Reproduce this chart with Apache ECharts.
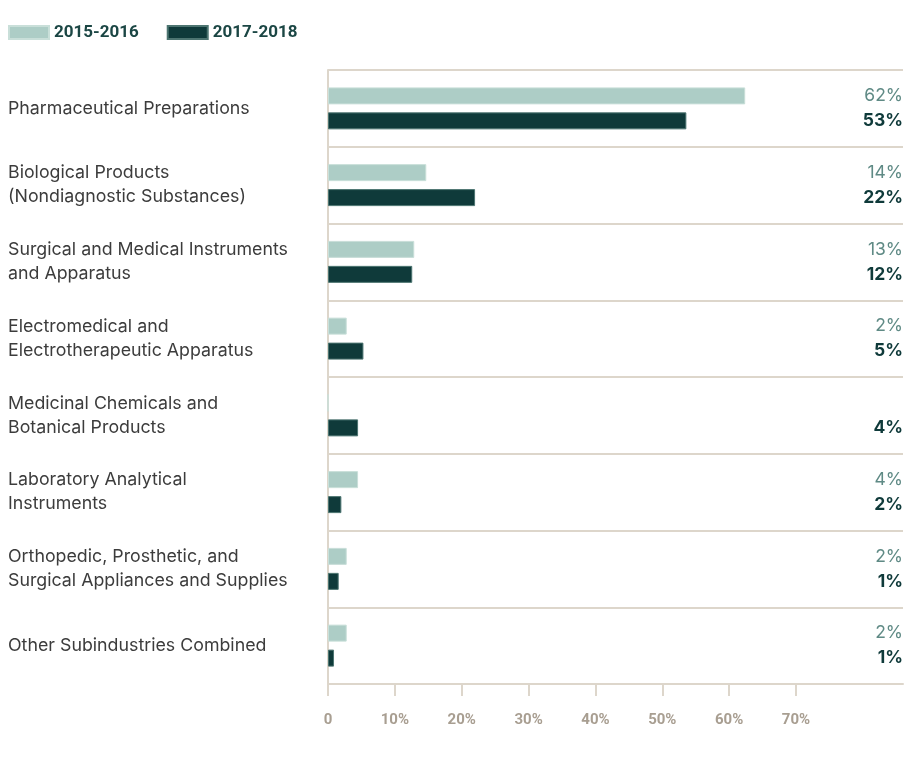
<!DOCTYPE html>
<html>
<head>
<meta charset="utf-8">
<script src="https://cdn.jsdelivr.net/npm/echarts@6/dist/echarts.min.js"></script>
<style>
  html, body { margin: 0; padding: 0; background: #fff; }
  #main { width: 907px; height: 761px; }
</style>
</head>
<body>
<div id="main"></div>
<script>
// categories, top to bottom
var categories = [
  'Pharmaceutical Preparations',
  'Biological Products\n(Nondiagnostic Substances)',
  'Surgical and Medical Instruments\nand Apparatus',
  'Electromedical and\nElectrotherapeutic Apparatus',
  'Medicinal Chemicals and\nBotanical Products',
  'Laboratory Analytical\nInstruments',
  'Orthopedic, Prosthetic, and\nSurgical Appliances and Supplies',
  'Other Subindustries Combined'
];
var seriesNames = ['2015-2016', '2017-2018'];
// bar lengths (percent)
var values2015 = [62.4, 14.7, 12.9, 2.8, 0, 4.5, 2.8, 2.8];
var values2017 = [53.6, 22.0, 12.6, 5.3, 4.5, 2.0, 1.6, 0.9];
// printed labels
var labels2015 = ['62%', '14%', '13%', '2%', '', '4%', '2%', '2%'];
var labels2017 = ['53%', '22%', '12%', '5%', '4%', '2%', '1%', '1%'];
var tickValues = [0, 10, 20, 30, 40, 50, 60, 70];
var axisMax = 86;

var lightColor = '#adcdc6';
var darkColor = '#0f3a3a';
var ruleColor = '#ddd6cb';
var narrowFont = 'Roboto, "Liberation Sans Narrow", sans-serif';

var chart = echarts.init(document.getElementById('main'));

var fullRow = categories.map(function () { return axisMax; });

function labelSeries(labels, color, weight) {
  return {
    type: 'bar',
    yAxisIndex: 1,
    data: fullRow,
    barWidth: 17,
    barGap: '47%',
    silent: true,
    itemStyle: { color: 'rgba(0,0,0,0)' },
    label: {
      show: true,
      position: 'insideRight',
      distance: 0,
      color: color,
      fontFamily: 'Inter, "Liberation Sans", sans-serif',
      fontSize: 17.5,
      fontWeight: weight,
      formatter: function (p) { return labels[p.dataIndex]; }
    }
  };
}

var option = {
  animation: false,
  legend: {
    left: 3,
    top: 19,
    itemWidth: 40,
    itemHeight: 13,
    itemGap: 28,
    icon: 'rect',
    data: seriesNames,
    textStyle: {
      color: '#1b4644',
      fontFamily: narrowFont,
      fontWeight: 'bold',
      fontSize: 17
    }
  },
  grid: { left: 328, right: 4, top: 70, bottom: 77 },
  xAxis: {
    type: 'value',
    min: 0,
    max: axisMax,
    interval: 10,
    axisLine: { show: true, lineStyle: { color: ruleColor, width: 2 } },
    axisTick: {
      show: true,
      length: 12,
      customValues: tickValues,
      lineStyle: { color: ruleColor, width: 2 }
    },
    splitLine: { show: false },
    axisLabel: {
      customValues: tickValues,
      margin: 29,
      color: '#a89e91',
      fontFamily: narrowFont,
      fontWeight: 'bold',
      fontSize: 15,
      formatter: function (v) { return v === 0 ? '0' : v + '%'; }
    }
  },
  yAxis: [{
    type: 'category',
    inverse: true,
    data: categories,
    axisLine: { show: true, lineStyle: { color: ruleColor, width: 2 } },
    axisTick: { show: false },
    splitLine: { show: true, lineStyle: { color: ruleColor, width: 2 } },
    axisLabel: {
      align: 'left',
      margin: 320,
      color: '#3c3c3c',
      fontFamily: 'Inter, "Liberation Sans", sans-serif',
      fontSize: 17.8,
      lineHeight: 24
    }
  }, {
    type: 'category',
    inverse: true,
    data: categories,
    show: false
  }],
  series: [{
    name: seriesNames[0],
    type: 'bar',
    data: values2015,
    barWidth: 17,
    barGap: '47%',
    itemStyle: { color: lightColor, borderColor: '#c9dfd9', borderWidth: 1 }
  }, {
    name: seriesNames[1],
    type: 'bar',
    data: values2017,
    barWidth: 17,
    barGap: '47%',
    itemStyle: { color: darkColor, borderColor: '#4d7571', borderWidth: 1 }
  },
  labelSeries(labels2015, '#5f8a85', 'normal'),
  labelSeries(labels2017, '#0f3a3a', 'bold')
  ]
};

chart.setOption(option);
</script>
</body>
</html>
